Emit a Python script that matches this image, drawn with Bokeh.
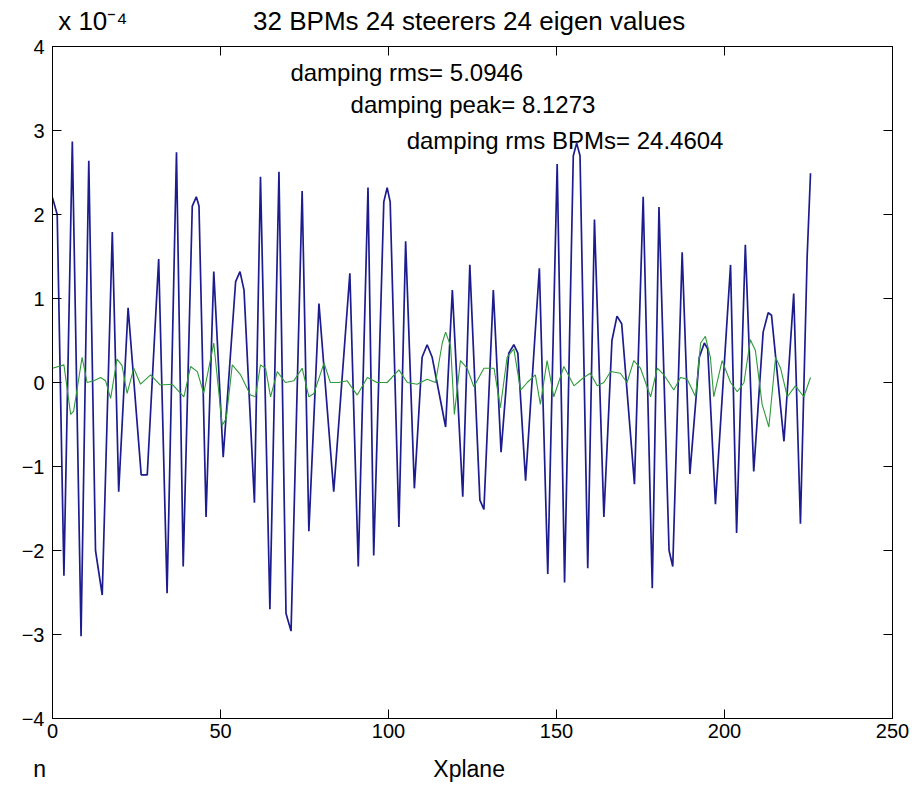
from bokeh.plotting import figure
from bokeh.models import Label, LinearAxis, FixedTicker, Range1d
from bokeh.embed import file_html
from bokeh.resources import INLINE

# ---- data (values in units of 1e-4) ----
x_ticks = [0, 50, 100, 150, 200, 250]
y_ticks = [-4, -3, -2, -1, 0, 1, 2, 3, 4]

blue_x = [0.0, 1.4, 3.4, 5.9, 8.5, 10.8, 12.8, 14.8, 17.8, 19.7, 22.5, 26.4, 28.2, 31.6, 34.1,
          36.9, 38.9, 41.6, 42.8, 43.6, 45.7, 48.0, 50.8, 54.5, 55.8, 57.0, 60.1, 61.9, 64.7,
          67.4, 69.5, 71.0, 74.3, 76.3, 79.3, 83.7, 88.5, 91.0, 93.9, 95.6, 98.6, 99.6, 100.5,
          103.1, 105.1, 107.7, 110.0, 111.5, 113.0, 117.0, 119.0, 122.1, 124.2, 127.2, 128.4,
          131.2, 133.5, 135.8, 137.3, 138.5, 140.8, 144.9, 147.4, 150.2, 152.4, 155.0, 156.0,
          157.0, 159.3, 161.3, 164.1, 166.5, 168.0, 169.4, 173.2, 175.8, 178.5, 180.5, 183.5,
          184.6, 187.4, 189.7, 192.5, 194.0, 195.0, 197.3, 201.8, 203.6, 206.2, 208.7, 211.5,
          213.0, 214.0, 217.7, 220.6, 222.6, 224.6, 225.6]
blue_y = [2.2, 2.0, -2.3, 2.87, -3.02, 2.64, -2.0, -2.53, 1.79, -1.3, 0.89, -1.1, -1.1, 1.47,
          -2.51, 2.74, -2.19, 2.1, 2.21, 2.1, -1.6, 1.32, -0.89, 1.2, 1.32, 1.1, -1.43, 2.45,
          -2.7, 2.51, -2.75, -2.96, 2.28, -1.77, 0.94, -1.3, 1.3, -2.19, 2.32, -2.06, 2.15,
          2.32, 2.15, -1.72, 1.68, -1.26, 0.3, 0.45, 0.3, -0.53, 1.1, -1.36, 1.4, -1.4, -1.51,
          1.1, -0.83, 0.35, 0.45, 0.35, -1.17, 1.36, -2.28, 2.6, -2.38, 2.7, 2.85, 2.7, -2.21,
          1.94, -1.6, 0.5, 0.79, 0.7, -1.21, 2.21, -2.45, 2.09, -2.0, -2.19, 1.55, -1.09, 0.3,
          0.47, 0.4, -1.45, 1.4, -1.79, 1.64, -1.06, 0.6, 0.83, 0.8, -0.7, 1.06, -1.68, 1.5, 2.49]

green_x = [0, 3.4, 5.4, 6.3, 8.8, 10.3, 12.3, 14.3, 15.8, 17.3, 19.2, 20.7, 22.2, 24.2, 26.2,
           29.2, 32.1, 35.6, 39.1, 41.1, 43.1, 45.0, 48.0, 49.3, 50.5, 51.7, 53.5, 56.0, 58.9,
           60.4, 61.9, 63.4, 64.9, 66.9, 69.3, 71.8, 74.3, 76.3, 77.8, 80.8, 82.7, 85.2, 87.7,
           90.7, 93.7, 96.6, 99.6, 103.1, 105.6, 108.5, 111.5, 114.0, 116.0, 117.0, 118.5,
           119.6, 121.4, 123.4, 125.4, 128.4, 131.4, 133.3, 135.3, 137.3, 139.3, 141.3, 143.7,
           145.2, 147.2, 149.2, 152.2, 155.2, 158.1, 160.1, 162.1, 164.1, 166.1, 169.0, 171.0,
           173.0, 175.0, 178.0, 180.0, 182.0, 184.9, 186.9, 188.9, 191.4, 192.9, 194.3, 195.8,
           196.8, 199.3, 201.8, 203.8, 205.8, 207.7, 209.2, 211.2, 213.2, 215.2, 216.7, 218.7,
           221.1, 223.6, 225.6]
green_y = [0.17, 0.21, -0.38, -0.34, 0.3, 0.0, 0.02, 0.06, 0.02, -0.19, 0.28, 0.2, -0.13, 0.17,
           -0.02, 0.09, -0.03, -0.02, -0.17, 0.19, 0.13, -0.13, 0.47, -0.04, -0.51, -0.43, 0.21,
           0.09, -0.15, -0.17, 0.21, 0.17, -0.17, 0.13, 0.0, 0.02, 0.17, -0.17, -0.13, 0.23, 0.0,
           0.0, 0.02, -0.15, 0.06, 0.0, 0.0, 0.15, 0.0, -0.02, 0.04, 0.0, 0.47, 0.6, 0.43, -0.38,
           0.26, 0.17, -0.05, 0.17, 0.17, -0.3, 0.3, 0.4, -0.09, 0.0, 0.09, -0.26, 0.26, -0.17,
           0.19, -0.04, 0.06, 0.11, -0.04, 0.0, 0.13, 0.11, 0.0, 0.26, 0.17, -0.17, 0.17, 0.09,
           -0.09, 0.06, 0.04, -0.17, 0.47, 0.55, 0.3, -0.17, 0.26, 0.0, -0.11, 0.0, 0.51, 0.38,
           -0.26, -0.53, 0.3, 0.17, -0.17, -0.04, -0.17, 0.06]

title_text = "32 BPMs 24 steerers 24 eigen values"
exponent_text = "x 10\u207b\u2074"
xlabel_text = "Xplane"
corner_text = "n"
notes = ["damping rms= 5.0946", "damping peak= 8.1273", "damping rms BPMs= 24.4604"]

SANS = "Liberation Sans"

p = figure(width=918, height=786, x_range=Range1d(0, 250), y_range=Range1d(-4, 4),
           output_backend="svg", toolbar_location=None, title_location=None,
           min_border_left=52, min_border_right=26, min_border_top=46, min_border_bottom=68)
p.background_fill_color = "white"
p.border_fill_color = "white"
p.grid.visible = False
p.outline_line_color = "black"
p.outline_line_width = 1

p.line(blue_x, blue_y, line_color="#1c1c8e", line_width=1.7)
p.line(green_x, green_y, line_color="#2f9a3a", line_width=1.1)

def style_axis(ax, ticks, show_labels):
    ax.ticker = FixedTicker(ticks=ticks)
    ax.major_tick_in = 9
    ax.major_tick_out = 0
    ax.minor_tick_line_color = None
    ax.axis_line_color = "black"
    ax.major_tick_line_color = "black"
    if show_labels:
        ax.major_label_text_font = SANS
        ax.major_label_text_font_size = "20px"
        ax.major_label_text_color = "black"
    else:
        ax.major_label_text_font_size = "0px"
        ax.major_label_text_color = None
        ax.major_label_standoff = 0

def text_axis(ax, ticks, overrides, size, standoff):
    # an axis used only to place texts outside the frame
    ax.ticker = FixedTicker(ticks=ticks)
    ax.major_label_overrides = overrides
    ax.axis_line_color = None
    ax.major_tick_line_color = None
    ax.minor_tick_line_color = None
    ax.major_tick_in = 0
    ax.major_tick_out = 0
    ax.major_label_standoff = standoff
    ax.major_label_text_font = SANS
    ax.major_label_text_font_size = size
    ax.major_label_text_color = "black"

style_axis(p.xaxis[0], x_ticks, True)
p.xaxis[0].major_label_standoff = 5
style_axis(p.yaxis[0], y_ticks, True)
p.yaxis[0].major_label_standoff = 8

top = LinearAxis()
style_axis(top, x_ticks, False)
p.add_layout(top, "above")
right = LinearAxis()
style_axis(right, y_ticks, False)
p.add_layout(right, "right")

# title row (exponent marker + title) above the frame
top_text = LinearAxis()
text_axis(top_text, [12, 124], {12: exponent_text, 124: title_text}, "26px", 11)
p.add_layout(top_text, "above")

# x label row (corner glyph + x label) below the tick labels
bottom_text = LinearAxis()
text_axis(bottom_text, [0, 124], {0: corner_text + "\u00a0" * 4, 124: xlabel_text}, "23px", 15)
p.add_layout(bottom_text, "below")

note_pos = [(70.8, 3.69), (88.7, 3.31), (105.4, 2.88)]
for (nx, ny), t in zip(note_pos, notes):
    p.add_layout(Label(x=nx, y=ny, text=t, text_align="left", text_baseline="middle",
                       text_font=SANS, text_font_size="24px", text_color="black"))

open("out.html", "w").write(file_html(p, INLINE))
